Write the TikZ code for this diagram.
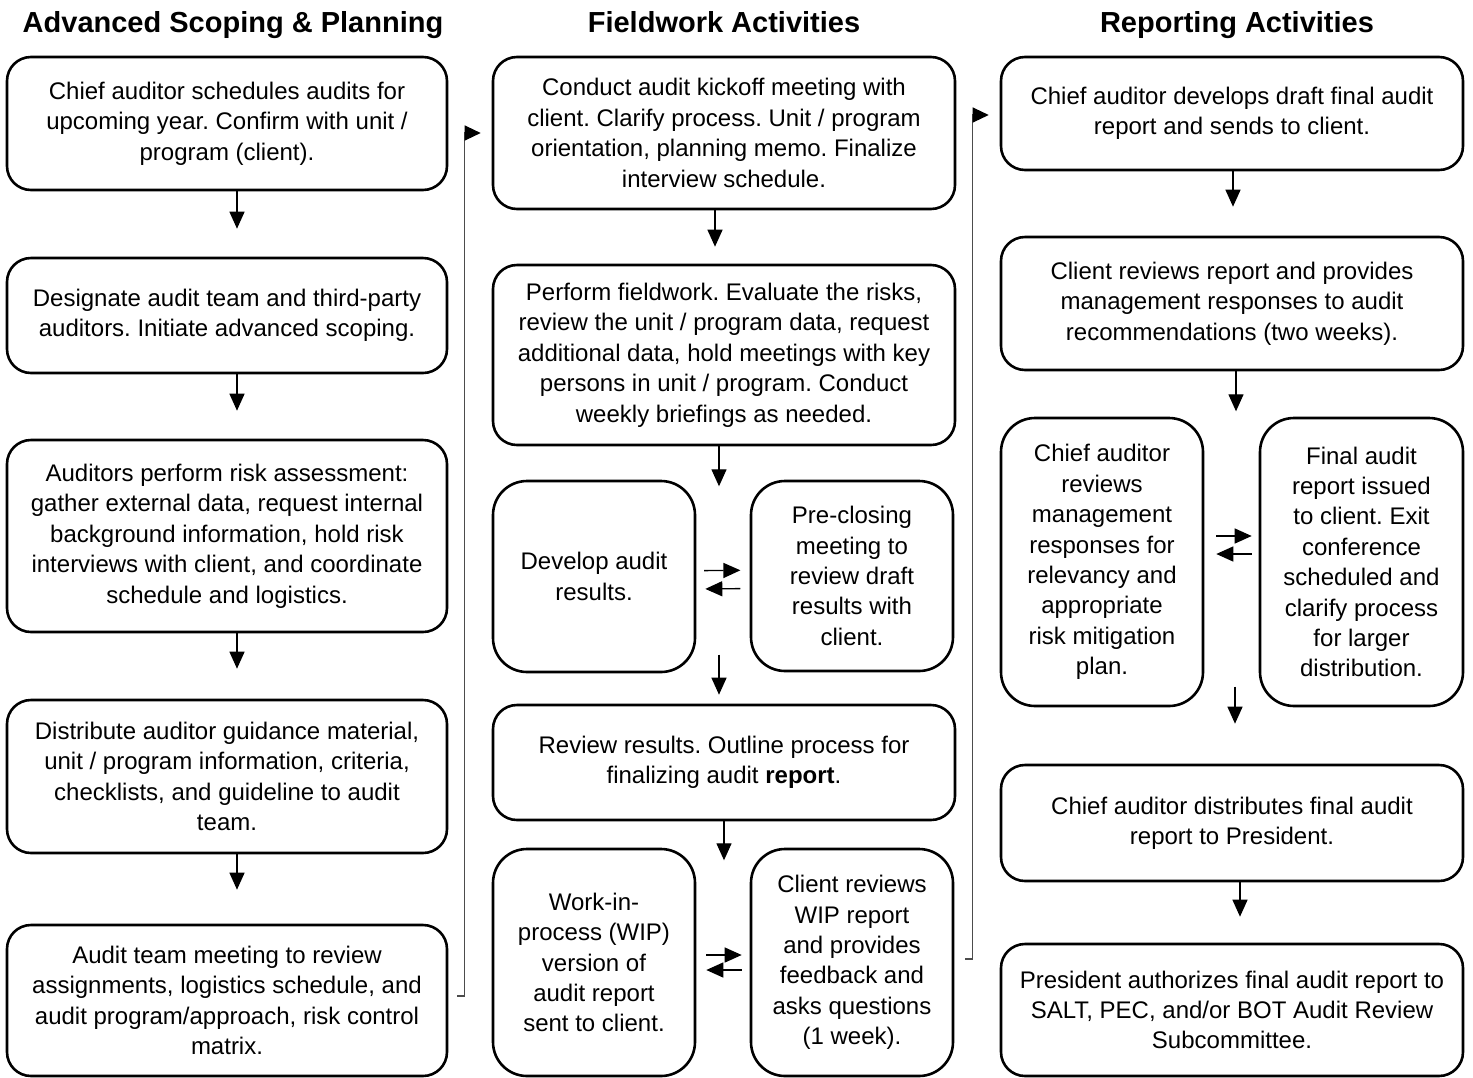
\documentclass[tikz,border=0pt]{standalone}
\usepackage{fontspec}
\setmainfont{Liberation Sans}
\usetikzlibrary{arrows.meta,calc}
\frenchspacing
\begin{document}
\frenchspacing
\begin{tikzpicture}[x=1pt,y=-1pt,
  box/.style={draw, line width=2.6pt, rounded corners=24pt, align=center, inner sep=0pt,
    font=\fontsize{24pt}{30.4pt}\selectfont},
  nbox/.style={box, rounded corners=34pt, minimum width=202pt},
  wbox/.style={box, minimum width=462pt},
  title/.style={anchor=base, font=\fontsize{29pt}{34pt}\selectfont\bfseries},
  arr/.style={line width=1.3pt, -{Triangle[length=17pt,width=15pt]}},
  conn/.style={line width=1.2pt, black!70, arrows={-{Triangle[length=16pt,width=15pt,black]}}}
]
\useasboundingbox (0,0) rectangle (1473,1077);

% titles
\node[title] (T1) at (233,32) {Advanced Scoping \& Planning};
\node[title] (T2) at (724,32) {Fieldwork Activities};
\node[title] (T3) at (1237,32) {Reporting Activities};

% left column
\node[box, minimum width=440pt, minimum height=133pt] (L1) at (227,123.5)
  {Chief auditor schedules audits for\\upcoming year. Confirm with unit /\\program (client).};
\node[box, minimum width=440pt, minimum height=115pt] (L2) at (227,315.5)
  {Designate audit team and third-party\\auditors. Initiate advanced scoping.};
\node[box, minimum width=440pt, minimum height=192pt] (L3) at (227,536)
  {Auditors perform risk assessment:\\gather external data, request internal\\background information, hold risk\\interviews with client, and coordinate\\schedule and logistics.};
\node[box, minimum width=440pt, minimum height=153pt] (L4) at (227,776.5)
  {Distribute auditor guidance material,\\unit / program information, criteria,\\checklists, and guideline to audit\\team.};
\node[box, minimum width=440pt, minimum height=151pt] (L5) at (227,1000.5)
  {Audit team meeting to review\\assignments, logistics schedule, and\\audit program/approach, risk control\\matrix.};

% middle column
\node[wbox, minimum height=152pt] (M1) at (724,133)
  {Conduct audit kickoff meeting with\\client. Clarify process. Unit / program\\orientation, planning memo. Finalize\\interview schedule.};
\node[wbox, minimum height=180pt] (M2) at (724,355)
  {Perform fieldwork. Evaluate the risks,\\review the unit / program data, request\\additional data, hold meetings with key\\persons in unit / program. Conduct\\weekly briefings as needed.};
\node[nbox, minimum height=191pt] (M3a) at (594,576.5) {Develop audit\\results.};
\node[nbox, minimum height=190pt] (M3b) at (852,576) {Pre-closing\\meeting to\\review draft\\results with\\client.};
\node[wbox, minimum height=115pt] (M4) at (724,762.5)
  {Review results. Outline process for\\finalizing audit \textbf{report}.};
\node[nbox, minimum height=227pt] (M5a) at (594,962.5)
  {Work-in-\\process (WIP)\\version of\\audit report\\sent to client.};
\node[nbox, minimum height=227pt] (M5b) at (852,962.5)
  {Client reviews\\WIP report\\and provides\\feedback and\\asks questions\\(1 week).};

% right column
\node[wbox, minimum height=113pt] (R1) at (1232,113.5)
  {Chief auditor develops draft final audit\\report and sends to client.};
\node[wbox, minimum height=133pt] (R2) at (1232,303.5)
  {Client reviews report and provides\\management responses to audit\\recommendations (two weeks).};
\node[nbox, minimum height=288pt] (R3a) at (1102,562)
  {Chief auditor\\reviews\\management\\responses for\\relevancy and\\appropriate\\risk mitigation\\plan.};
\node[nbox, minimum width=203pt, minimum height=288pt] (R3b) at (1361.5,562)
  {Final audit\\report issued\\to client. Exit\\conference\\scheduled and\\clarify process\\for larger\\distribution.};
\node[wbox, minimum height=116pt] (R4) at (1232,823)
  {Chief auditor distributes final audit\\report to President.};
\node[wbox, minimum height=132pt] (R5) at (1232,1010)
  {President authorizes final audit report to\\SALT, PEC, and/or BOT Audit Review\\Subcommittee.};

% left arrows
\draw[arr] ([xshift=10pt]L1.south) -- ([xshift=10pt,yshift=28pt]L2.north);
\draw[arr] ([xshift=10pt]L2.south) -- ([xshift=10pt,yshift=28pt]L3.north);
\draw[arr] ([xshift=10pt]L3.south) -- ([xshift=10pt,yshift=30pt]L4.north);
\draw[arr] ([xshift=10pt]L4.south) -- ([xshift=10pt,yshift=34pt]L5.north);

% middle arrows
\draw[arr] ([xshift=-9pt]M1.south) -- ([xshift=-9pt,yshift=17pt]M2.north);
\draw[arr] ([xshift=-5pt]M2.south) -- ++(0,40);
\draw[arr] ([xshift=-5pt,yshift=49pt]M4.north) -- ([xshift=-5pt,yshift=9pt]M4.north);
\draw[arr] (M4.south) -- ++(0,39);

\draw[arr, shorten <=7.7pt, shorten >=9.3pt] ([yshift=5.8pt]M3a.east) -- ([yshift=5.8pt]M3b.west);
\draw[arr, shorten <=9.3pt, shorten >=9pt] ([yshift=-12.5pt]M3b.west) -- ([yshift=-12.5pt]M3a.east);
\draw[arr, shorten <=10pt, shorten >=8pt] ([yshift=7.5pt]M5a.east) -- ([yshift=7.5pt]M5b.west);
\draw[arr, shorten <=8pt, shorten >=10pt] ([yshift=-7.5pt]M5b.west) -- ([yshift=-7.5pt]M5a.east);

% right arrows
\draw[arr] ([xshift=1pt]R1.south) -- ([xshift=1pt,yshift=29pt]R2.north);
\draw[arr] ([xshift=4pt]R2.south) -- ++(0,40);
\draw[arr] ([xshift=3pt,yshift=77pt]R4.north) -- ([xshift=3pt,yshift=40pt]R4.north);
\draw[arr] ([xshift=8pt]R4.south) -- ([xshift=8pt,yshift=26pt]R5.north);

\draw[arr, shorten <=12pt, shorten >=7pt] ([yshift=26pt]R3a.east) -- ([yshift=26pt]R3b.west);
\draw[arr, shorten <=7pt, shorten >=12pt] ([yshift=8pt]R3b.west) -- ([yshift=8pt]R3a.east);

% column connectors
\draw[conn] ([xshift=9pt,yshift=4.5pt]L5.east) -- ++(7,0) |- ([xshift=-11pt]M1.west);
\draw[conn] ([xshift=11pt,yshift=3.5pt]M5b.east) -- ++(7,0) |- ([xshift=-11pt,yshift=-1.5pt]R1.west);
\end{tikzpicture}
\end{document}
